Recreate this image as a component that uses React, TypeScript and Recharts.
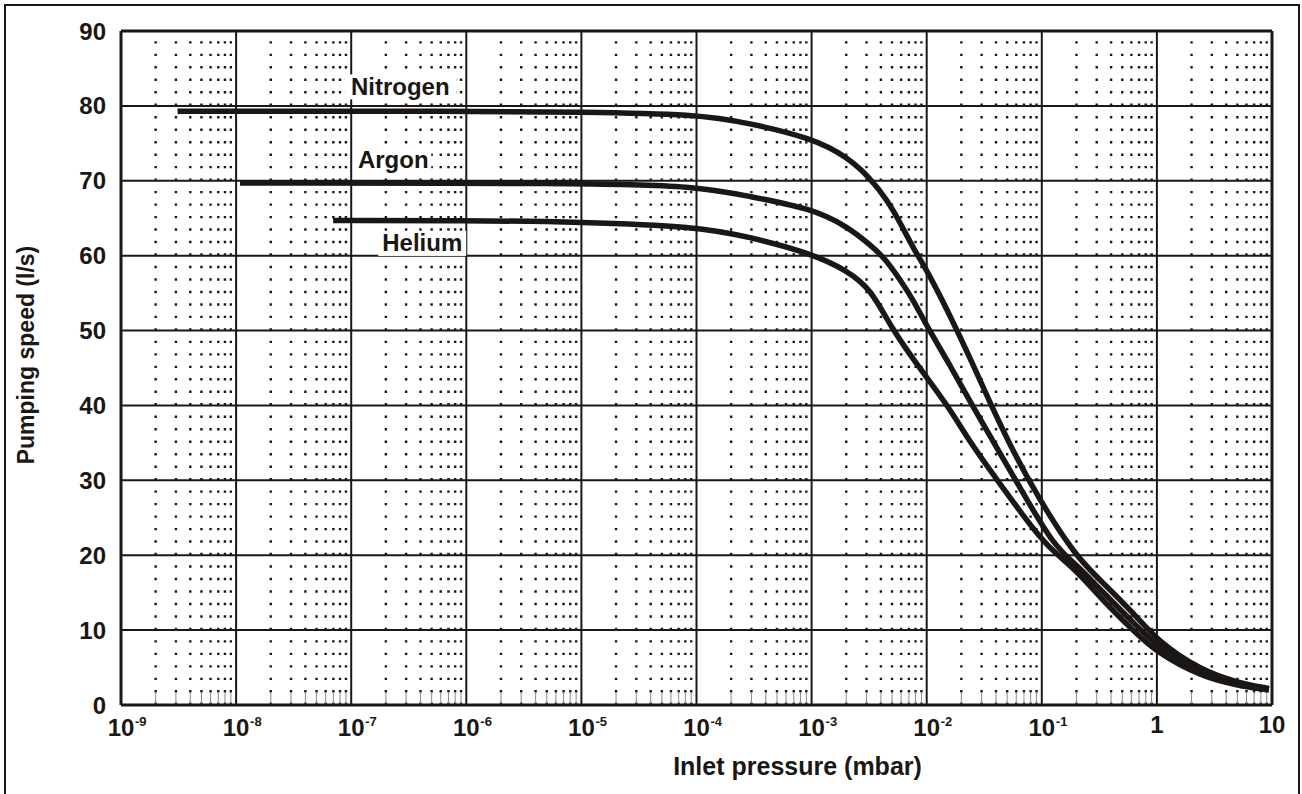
import React from "react";
import { LineChart, Line, XAxis, YAxis, CartesianGrid, ReferenceLine, ReferenceDot } from "recharts";

const INK = "#1b1714";
const FONT = "'Liberation Sans', Arial, sans-serif";

// pumping speed (l/s) against inlet pressure (mbar)
const nitrogen = [
  { p: 3.1e-9, s: 79.3 },
  { p: 1e-6, s: 79.3 },
  { p: 1e-5, s: 79.2 },
  { p: 1e-4, s: 78.9 },
  { p: 2.9e-4, s: 77.7 },
  { p: 1e-3, s: 75.7 },
  { p: 2.04e-3, s: 73.2 },
  { p: 3.26e-3, s: 70.3 },
  { p: 4.55e-3, s: 67.4 },
  { p: 5.94e-3, s: 64.3 },
  { p: 7.76e-3, s: 60.8 },
  { p: 1.01e-2, s: 58.0 },
  { p: 1.62e-2, s: 51.8 },
  { p: 2.42e-2, s: 46.1 },
  { p: 3.61e-2, s: 40.1 },
  { p: 5.37e-2, s: 34.5 },
  { p: 9.18e-2, s: 27.8 },
  { p: 0.198, s: 19.8 },
  { p: 0.326, s: 16.6 },
  { p: 0.635, s: 12.2 },
  { p: 1, s: 8.6 },
  { p: 2.42, s: 4.6 },
  { p: 5, s: 3.0 },
  { p: 9.4, s: 2.2 },
];

const argon = [
  { p: 1.08e-8, s: 69.7 },
  { p: 1e-5, s: 69.7 },
  { p: 1e-4, s: 69.3 },
  { p: 2.9e-4, s: 67.9 },
  { p: 1e-3, s: 66.3 },
  { p: 2.04e-3, s: 63.9 },
  { p: 3.26e-3, s: 61.4 },
  { p: 4.25e-3, s: 59.8 },
  { p: 5.94e-3, s: 56.7 },
  { p: 7.76e-3, s: 53.9 },
  { p: 1.01e-2, s: 50.5 },
  { p: 1.62e-2, s: 45.2 },
  { p: 2.42e-2, s: 40.3 },
  { p: 3.85e-2, s: 35.0 },
  { p: 6.15e-2, s: 29.6 },
  { p: 0.128, s: 21.1 },
  { p: 0.2, s: 18.8 },
  { p: 0.326, s: 15.3 },
  { p: 0.635, s: 10.9 },
  { p: 1, s: 7.8 },
  { p: 2.42, s: 4.2 },
  { p: 5, s: 2.8 },
  { p: 9.4, s: 2.1 },
];

const helium = [
  { p: 6.97e-8, s: 64.7 },
  { p: 1e-6, s: 64.7 },
  { p: 1e-5, s: 64.5 },
  { p: 1e-4, s: 63.9 },
  { p: 2.9e-4, s: 62.5 },
  { p: 1e-3, s: 60.3 },
  { p: 2.04e-3, s: 58.0 },
  { p: 3.26e-3, s: 55.6 },
  { p: 5.04e-3, s: 50.1 },
  { p: 8.3e-3, s: 45.4 },
  { p: 1.51e-2, s: 40.1 },
  { p: 2.42e-2, s: 34.9 },
  { p: 4.12e-2, s: 30.0 },
  { p: 7.02e-2, s: 25.1 },
  { p: 0.112, s: 21.1 },
  { p: 0.2, s: 18.0 },
  { p: 0.326, s: 14.2 },
  { p: 0.635, s: 9.8 },
  { p: 1, s: 7.0 },
  { p: 2.42, s: 3.8 },
  { p: 5, s: 2.6 },
  { p: 9.4, s: 2.0 },
];

const gasLabels = [
  { name: "Nitrogen", p: 2.67e-7, s: 82.6 },
  { name: "Argon", p: 2.32e-7, s: 72.8 },
  { name: "Helium", p: 4.14e-7, s: 61.7 },
];

const xTicks = [1e-9, 1e-8, 1e-7, 1e-6, 1e-5, 1e-4, 1e-3, 1e-2, 1e-1, 1, 10];
const yTicks = [0, 10, 20, 30, 40, 50, 60, 70, 80, 90];

// 2..9 inside every decade, for the dotted minor grid
const minorX: number[] = [];
for (let e = -9; e <= 0; e++) {
  for (let m = 2; m <= 9; m++) minorX.push(m * Math.pow(10, e));
}

const PressureTick = ({ x, y, payload }: any) => {
  const v: number = payload.value;
  const exp = Math.round(Math.log10(v));
  const bold = { fontFamily: FONT, fontWeight: 700, fill: INK };
  if (exp >= 0) {
    return (
      <text x={x} y={y + 28} textAnchor="middle" fontSize={24} {...bold}>
        {v === 1 ? "1" : "10"}
      </text>
    );
  }
  return (
    <g>
      <text x={x} y={y + 31} textAnchor="middle" fontSize={24} {...bold}>10</text>
      <text x={x + 14} y={y + 21} textAnchor="start" fontSize={13} {...bold}>{exp}</text>
    </g>
  );
};

const GasLabel = ({ cx, cy, name }: any) => {
  const w = name.length * 12 + 16;
  return (
    <g>
      <rect x={cx - w / 2} y={cy - 12} width={w} height={25} fill="#fff" />
      <text x={cx} y={cy + 8.5} textAnchor="middle" fontSize={24} fontWeight={700} fontFamily={FONT} fill={INK}>
        {name}
      </text>
    </g>
  );
};

export default function App() {
  return (
    <div style={{ position: "absolute", left: 0, top: 0, width: 1302, height: 794, overflow: "hidden", background: "#fff" }}>
      <div
        style={{
          position: "absolute",
          left: 4,
          top: 4,
          width: 1296,
          height: 820,
          boxSizing: "border-box",
          border: `2px solid ${INK}`,
        }}
      />
      <LineChart width={1302} height={794} margin={{ top: 31, right: 30, bottom: 0, left: 0 }}>
        <CartesianGrid stroke={INK} strokeWidth={2} />
        <XAxis
          dataKey="p"
          type="number"
          scale="log"
          domain={[1e-9, 10]}
          ticks={xTicks}
          allowDataOverflow
          height={89}
          tickLine={false}
          tickSize={0}
          tickMargin={0}
          axisLine={{ stroke: INK, strokeWidth: 3 }}
          tick={<PressureTick />}
          label={({ viewBox }: any) => (
            <text
              x={viewBox.x + viewBox.width / 2 + 101}
              y={viewBox.y + 70}
              textAnchor="middle"
              fontSize={25}
              fontWeight={700}
              fontFamily={FONT}
              fill={INK}
            >
              Inlet pressure (mbar)
            </text>
          )}
        />
        <YAxis
          type="number"
          domain={[0, 90]}
          ticks={yTicks}
          width={121}
          tickLine={false}
          tickSize={0}
          tickMargin={15}
          axisLine={{ stroke: INK, strokeWidth: 3 }}
          tick={{ fontSize: 24, fontWeight: 700, fill: INK, fontFamily: FONT }}
          label={() => (
            <text
              x={34}
              y={355}
              transform="rotate(-90 34 355)"
              textAnchor="middle"
              fontSize={23}
              fontWeight={700}
              fontFamily={FONT}
              fill={INK}
            >
              Pumping speed (l/s)
            </text>
          )}
        />
        {minorX.map((v) => (
          <ReferenceLine
            key={`d${v}`}
            segment={[{ x: v, y: 0 }, { x: v, y: 90 }]}
            stroke={INK}
            strokeWidth={2.4}
            strokeDasharray="2.4 10.08"
          />
        ))}
        {minorX.map((v) => (
          <ReferenceLine
            key={`t${v}`}
            segment={[{ x: v, y: 0 }, { x: v, y: 1.6 }]}
            stroke="#8a8a8a"
            strokeWidth={1}
          />
        ))}
        <ReferenceLine y={90} stroke={INK} strokeWidth={3} />
        <ReferenceLine x={10} stroke={INK} strokeWidth={3} />
        {gasLabels.map((g) => (
          <ReferenceDot
            key={g.name}
            x={g.p}
            y={g.s}
            r={1}
            shape={(props: any) => <GasLabel {...props} name={g.name} />}
          />
        ))}
        <Line data={nitrogen} dataKey="s" type="basis" stroke={INK} strokeWidth={5.5} dot={false} isAnimationActive={false} />
        <Line data={argon} dataKey="s" type="basis" stroke={INK} strokeWidth={5.5} dot={false} isAnimationActive={false} />
        <Line data={helium} dataKey="s" type="basis" stroke={INK} strokeWidth={5.5} dot={false} isAnimationActive={false} />
      </LineChart>
    </div>
  );
}
